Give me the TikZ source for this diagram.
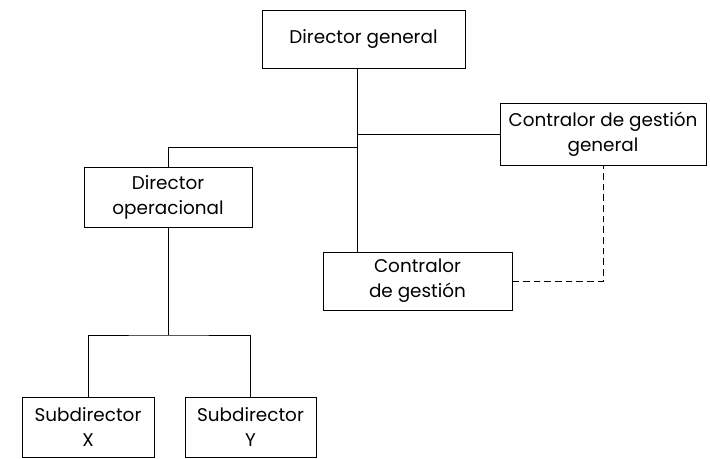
\documentclass[tikz,border=0pt]{standalone}
\usepackage{fontspec}
\setmainfont{Poppins}
\usetikzlibrary{positioning}
\newcommand\boxh{58}
\newcommand\boxfont{\fontsize{13.8}{18.8}\selectfont}

\begin{document}
\begin{tikzpicture}[x=0.75pt,y=-0.75pt,
    orgbox/.style={draw,line width=0.6pt,align=center,inner sep=0pt,font=\boxfont},
    link/.style={line width=0.6pt}]
    \useasboundingbox (0,0) rectangle (710,459);

    \node[orgbox,minimum width=203*0.75pt,minimum height=\boxh*0.75pt] (dg) at (363.5,39) {Director general};
    \node[orgbox,minimum width=206*0.75pt,minimum height=62*0.75pt] (cgg) at (603,134) {Contralor de gestión\\general};
    \node[orgbox,minimum width=168*0.75pt,minimum height=60*0.75pt] (dop) at (168,197.5) {Director\\operacional};
    \node[orgbox,minimum width=189*0.75pt,minimum height=\boxh*0.75pt] (cg) at (417.5,281) {Contralor\\de gestión};
    \node[orgbox,minimum width=132*0.75pt,minimum height=60*0.75pt] (sx) at (88,427) {Subdirector\\X};
    \node[orgbox,minimum width=131*0.75pt,minimum height=60*0.75pt] (sy) at (250.5,427) {Subdirector\\Y};

    \coordinate (j) at (357,147);
    \coordinate (b) at (168,335);

    \draw[link] (dg.south -| j) -- (cg.north -| j);
    \draw[link] (j) -| (dop.north);
    \draw[link] (j |- cgg.west) -- (cgg.west);
    \draw[link] (dop.south) -- (b);
    \draw[link] (sx.north) |- (b) -| (sy.north);
    \draw[link,dash pattern=on 5pt off 3pt] (cg.east) -| (cgg.south);

\end{tikzpicture}
\end{document}
